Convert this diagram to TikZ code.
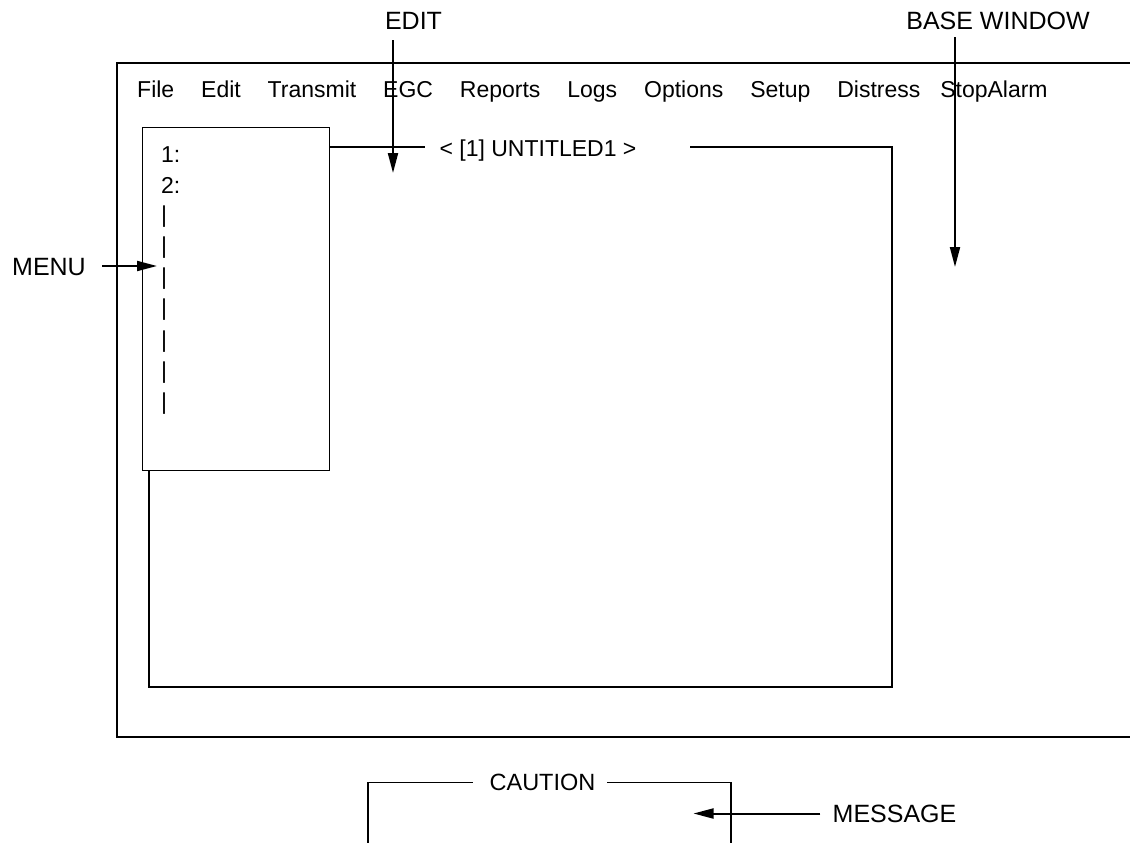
\documentclass[tikz,border=0pt]{standalone}
\usepackage{fontspec}
\setmainfont{Liberation Sans}
\usepackage{tikz}
\usetikzlibrary{arrows.meta, positioning}
\tikzset{
    screentext/.style = {draw=none, fill=none, rectangle, inner sep=0em, font=\fontsize{23}{28}\selectfont},
    cautiontext/.style = {draw=none, fill=none, rectangle, inner sep=0em, font=\fontsize{23.5}{28}\selectfont},
    labeltext/.style = {draw=none, fill=none, rectangle, inner sep=0em, font=\fontsize{25}{30}\selectfont},
    windowline/.style = {black, line width=1.3pt},
    boxnode/.style = {draw, rectangle, inner sep=0em, line width=1.3pt},
    connect/.style = {black, line width=2pt, -{Triangle[length=20pt, width=10pt]}}
}
\begin{document}
\begin{tikzpicture}[x=1pt, y=-1pt]
    \useasboundingbox (0,0) rectangle (1130,843);

    \draw [windowline] (1130,63) -- (117,63) -- (117,737) -- (1130,737);

    \node [name=file, screentext, anchor=base west] at (137,97) {File};
    \node [name=edit, screentext, base right=26.5pt of file] {Edit};
    \node [name=transmit, screentext, base right=26.5pt of edit] {Transmit};
    \node [name=egc, screentext, base right=26.5pt of transmit] {EGC};
    \node [name=reports, screentext, base right=26.5pt of egc] {Reports};
    \node [name=logs, screentext, base right=26.5pt of reports] {Logs};
    \node [name=options, screentext, base right=26.5pt of logs] {Options};
    \node [name=setup, screentext, base right=26.5pt of options] {Setup};
    \node [name=distress, screentext, base right=26.5pt of setup] {Distress};
    \node [name=stopalarm, screentext, base right=19.5pt of distress] {StopAlarm};

    \node [name=menubox, boxnode, minimum width=187pt, minimum height=343pt, anchor=north west] at (142,127) {};

    \node [name=title, screentext, anchor=base] at (538,156) {< [1] UNTITLED1 >};
    \coordinate (titleline) at (0,147);
    \draw [windowline] (menubox.east |- titleline) -- (425,147);
    \draw [windowline] (690,147) -- (892,147) -- (892,687) -- (149,687) -- (149,470);

    \node [name=item1, screentext, anchor=base west] at (161,162) {1:};
    \node [name=item2, screentext, anchor=base west] at (161,193) {2:};
    \node [name=bar1, screentext, anchor=base west] at (161,222) {|};
    \node [name=bar2, screentext, below of=bar1, node distance=31.3pt] {|};
    \node [name=bar3, screentext, below of=bar2, node distance=31.3pt] {|};
    \node [name=bar4, screentext, below of=bar3, node distance=31.3pt] {|};
    \node [name=bar5, screentext, below of=bar4, node distance=31.3pt] {|};
    \node [name=bar6, screentext, below of=bar5, node distance=31.3pt] {|};
    \node [name=bar7, screentext, below of=bar6, node distance=31.3pt] {|};

    \node [name=editlabel, labeltext, anchor=base] at (413.5,30) {EDIT};
    \coordinate (edittip) at (393,173);
    \draw [connect, shorten <=10pt] (editlabel.south -| edittip) -- (edittip);

    \node [name=baselabel, labeltext, anchor=base] at (998,30) {BASE WINDOW};
    \coordinate (basetip) at (955,267);
    \draw [connect, shorten <=7pt] (baselabel.south -| basetip) -- (basetip);

    \node [name=menulabel, labeltext, anchor=base] at (49,275) {MENU};
    \coordinate (menutip) at (157,266);
    \draw [connect, shorten <=16pt] (menulabel.east |- menutip) -- (menutip);

    \node [name=cautionlabel, cautiontext, anchor=base] at (542.5,790) {CAUTION};
    \draw [windowline] (472.5,782.5) -- (368,782.5) -- (368,843);
    \draw [windowline] (607,782.5) -- (731,782.5) -- (731,843);

    \node [name=messagelabel, labeltext, anchor=base] at (894.5,822) {MESSAGE};
    \coordinate (messagetip) at (693.5,813.5);
    \draw [connect, shorten <=12pt] (messagelabel.west |- messagetip) -- (messagetip);
\end{tikzpicture}
\end{document}
